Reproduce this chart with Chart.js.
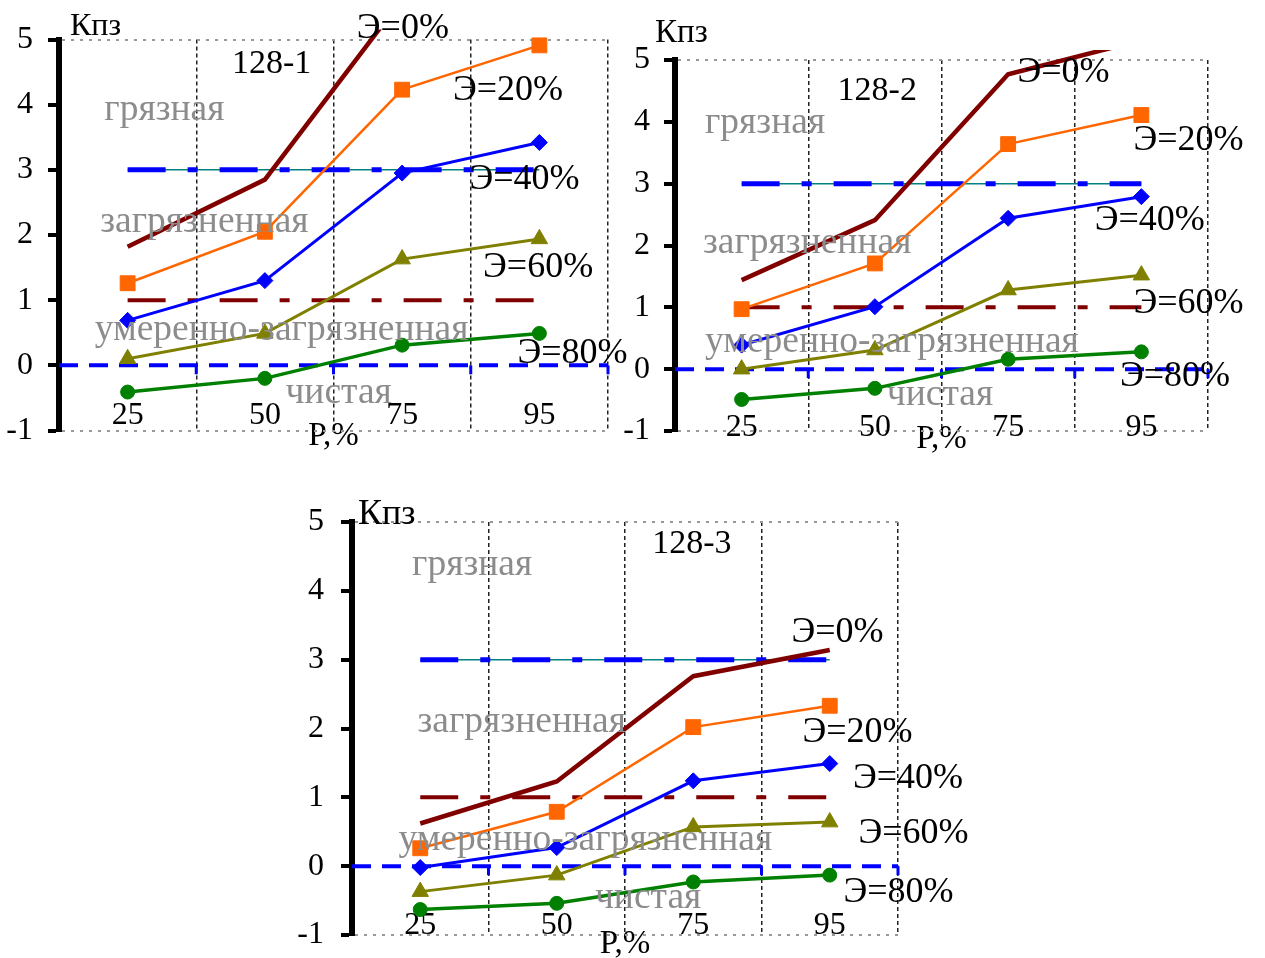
<!DOCTYPE html>
<html lang="ru">
<head>
<meta charset="utf-8">
<title>Кпз — 128-1, 128-2, 128-3</title>
<script src="https://cdn.jsdelivr.net/npm/chart.js@4.4.1/dist/chart.umd.min.js"></script>
<style>
  html, body { margin: 0; padding: 0; background: #ffffff; width: 1265px; height: 958px; overflow: hidden; }
  canvas { position: absolute; }
</style>
</head>
<body>
<canvas id="c1" width="650" height="470" style="left:0px;top:0px"></canvas>
<canvas id="c2" width="645" height="470" style="left:620px;top:0px"></canvas>
<canvas id="c3" width="700" height="495" style="left:290px;top:480px"></canvas>
<script>
// Probability of exceedance P, % (x categories)
const categories = ['25', '50', '75', '95'];
const yTicks = [-1, 0, 1, 2, 3, 4, 5];
const seriesNames = ['Э=0%', 'Э=20%', 'Э=40%', 'Э=60%', 'Э=80%'];
const zoneNames = ['грязная', 'загрязненная', 'умеренно-загрязненная', 'чистая'];
const axisTitleY = 'Кпз';
const axisTitleX = 'P,%';

// Zone boundaries of the pollution index
const zoneUpper = [3, 3, 3, 3];
const zoneLower = [1, 1, 1, 1];

// Station 128-1
const s1_e0 = [1.82, 2.85, 5.62, 6.30];
const s1_e20 = [1.26, 2.05, 4.23, 4.91];
const s1_e40 = [0.69, 1.30, 2.95, 3.42];
const s1_e60 = [0.10, 0.49, 1.63, 1.94];
const s1_e80 = [-0.41, -0.20, 0.31, 0.49];

// Station 128-2
const s2_e0 = [1.44, 2.41, 4.77, 5.32];
const s2_e20 = [0.97, 1.71, 3.64, 4.11];
const s2_e40 = [0.39, 1.01, 2.44, 2.79];
const s2_e60 = [0.00, 0.31, 1.28, 1.52];
const s2_e80 = [-0.49, -0.31, 0.16, 0.28];

// Station 128-3
const s3_e0 = [0.62, 1.23, 2.76, 3.14];
const s3_e20 = [0.26, 0.79, 2.02, 2.33];
const s3_e40 = [-0.02, 0.27, 1.24, 1.49];
const s3_e60 = [-0.37, -0.13, 0.57, 0.64];
const s3_e80 = [-0.63, -0.54, -0.23, -0.13];

const SERIF = '"Liberation Serif", "Times New Roman", serif';
const GRAY = '#8c8c8c';

// Horizontal axis crossing at zero (blue dashed) and free text labels
const overlayPlugin = {
  id: 'overlay',
  beforeDatasetsDraw(chart) {
    const {ctx, chartArea, scales: {x, y}} = chart;
    const y0 = y.getPixelForValue(0);
    ctx.save();
    ctx.strokeStyle = '#0000ff';
    ctx.lineWidth = 4;
    ctx.setLineDash([19, 11]);
    ctx.beginPath();
    ctx.moveTo(chartArea.left, y0);
    ctx.lineTo(chartArea.right, y0);
    ctx.stroke();
    ctx.setLineDash([]);
    ctx.lineWidth = 3;
    for (let i = 0; i < x.ticks.length; i++) {
      const px = x.getPixelForValue(i + 0.5);
      ctx.beginPath();
      ctx.moveTo(px, y0);
      ctx.lineTo(px, y0 + 9);
      ctx.stroke();
    }
    ctx.restore();
  },
  afterDatasetsDraw(chart, args, opts) {
    const {ctx, scales: {x, y}} = chart;
    ctx.save();
    ctx.textAlign = 'left';
    ctx.textBaseline = 'alphabetic';
    for (const n of opts.notes) {
      ctx.font = n.size + 'px ' + SERIF;
      ctx.fillStyle = n.color;
      ctx.fillText(n.text, x.getPixelForValue(n.at[0]), y.getPixelForValue(n.at[1]));
    }
    ctx.restore();
  }
};

function seriesSets(values) {
  const styles = [
    {color: '#800000', width: 4.5, point: 'circle', r: 0},
    {color: '#ff6600', width: 2.5, point: 'rect', r: 10.5},
    {color: '#0000ff', width: 3, point: 'rectRot', r: 8},
    {color: '#808000', width: 3, point: 'triangle', r: 9.5},
    {color: '#008000', width: 3.5, point: 'circle', r: 7}
  ];
  return values.map((v, i) => ({
    label: seriesNames[i],
    data: v,
    borderColor: styles[i].color,
    backgroundColor: styles[i].color,
    pointBackgroundColor: styles[i].color,
    pointBorderColor: styles[i].color,
    borderWidth: styles[i].width,
    pointStyle: styles[i].point,
    pointRadius: styles[i].r,
    pointBorderWidth: 1,
    tension: 0,
    fill: false,
    clip: {left: 10, top: 10, right: 10, bottom: 10}
  }));
}

function zoneSets() {
  const dash = [38, 22, 10, 22];
  return [
    {label: 'upper', data: zoneUpper, borderColor: '#0000ff', borderWidth: 5, borderDash: dash, pointRadius: 0, fill: false},
    {label: 'upper-line', data: zoneUpper, borderColor: '#008080', borderWidth: 1.5, pointRadius: 0, fill: false},
    {label: 'lower', data: zoneLower, borderColor: '#800000', borderWidth: 4, borderDash: dash, pointRadius: 0, fill: false}
  ];
}

function makeChart(id, g) {
  const notes = [
    {text: axisTitleY, at: g.title, size: g.titleSize, color: '#000'},
    {text: g.name, at: g.nameAt, size: 34, color: '#000'}
  ];
  zoneNames.forEach((t, i) => notes.push({text: t, at: g.zones[i], size: 37.5, color: GRAY}));
  seriesNames.forEach((t, i) => notes.push({text: t, at: g.labels[i], size: 36, color: '#000'}));

  return new Chart(document.getElementById(id), {
    type: 'line',
    data: {
      labels: categories,
      datasets: seriesSets(g.values).concat(zoneSets())
    },
    plugins: [overlayPlugin],
    options: {
      responsive: false,
      animation: false,
      events: [],
      layout: {padding: {top: g.pad.top, right: g.pad.right, left: 0, bottom: 0}},
      plugins: {
        legend: {display: false},
        tooltip: {enabled: false},
        overlay: {notes}
      },
      scales: {
        x: {
          type: 'category',
          offset: true,
          afterFit: s => { s.height = g.xHeight; },
          grid: {offset: true, color: '#222', lineWidth: 1.5, drawTicks: false},
          border: {display: false, dash: [4, 3]},
          ticks: {
            mirror: true,
            padding: g.xPad,
            color: '#000',
            autoSkip: false,
            maxRotation: 0,
            font: {family: SERIF, size: 32, lineHeight: 1}
          },
          title: {
            display: true,
            text: axisTitleX,
            color: '#000',
            font: {family: SERIF, size: 33, lineHeight: 0.8},
            padding: {top: 0, bottom: g.titlePad}
          }
        },
        y: {
          min: -1,
          max: 5,
          afterFit: s => { s.width = g.yWidth; },
          afterBuildTicks: s => { s.ticks = yTicks.map(v => ({value: v})); },
          grid: {
            color: c => (c.tick && (c.tick.value === 5 || c.tick.value === -1)) ? '#999' : 'rgba(0,0,0,0)',
            lineWidth: 2,
            tickColor: '#000',
            tickWidth: 4,
            tickLength: 11
          },
          border: {display: true, color: '#000', width: 6, dash: [3, 6]},
          ticks: {
            color: '#000',
            padding: g.yPad,
            font: {family: SERIF, size: 32}
          }
        }
      }
    }
  });
}

makeChart('c1', {
  name: '128-1',
  values: [s1_e0, s1_e20, s1_e40, s1_e60, s1_e80],
  pad: {top: 39.5, right: 42},
  xHeight: 39.5, yWidth: 59, xPad: -1.5, yPad: 15, titlePad: 20.8, titleSize: 32,
  title: [-0.42, 5.07],
  nameAt: [0.76, 4.49],
  zones: [[-0.17, 3.76], [-0.20, 2.05], [-0.24, 0.39], [1.15, -0.58]],
  labels: [[1.67, 5.02], [2.37, 4.07], [2.49, 2.70], [2.59, 1.36], [2.84, 0.03]]
});

makeChart('c2', {
  name: '128-2',
  values: [s2_e0, s2_e20, s2_e40, s2_e60, s2_e80],
  pad: {top: 60, right: 57},
  xHeight: 39, yWidth: 55, xPad: -13, yPad: 14, titlePad: 17.8, titleSize: 33,
  title: [-0.65, 5.29],
  nameAt: [0.72, 4.35],
  zones: [[-0.275, 3.82], [-0.29, 1.88], [-0.275, 0.28], [1.09, -0.58]],
  labels: [[2.07, 4.65], [2.94, 3.55], [2.65, 2.25], [2.94, 0.91], [2.84, -0.28]]
});

makeChart('c3', {
  name: '128-3',
  values: [s3_e0, s3_e20, s3_e40, s3_e60, s3_e80],
  pad: {top: 42, right: 92},
  xHeight: 40, yWidth: 62, xPad: -7, yPad: 17, titlePad: 17.8, titleSize: 36,
  title: [-0.456, 4.97],
  nameAt: [1.70, 4.55],
  zones: [[-0.06, 4.23], [-0.02, 1.95], [-0.16, 0.235], [1.28, -0.61]],
  labels: [[2.72, 3.26], [2.80, 1.81], [3.17, 1.13], [3.21, 0.33], [3.10, -0.52]]
});
</script>
</body>
</html>
